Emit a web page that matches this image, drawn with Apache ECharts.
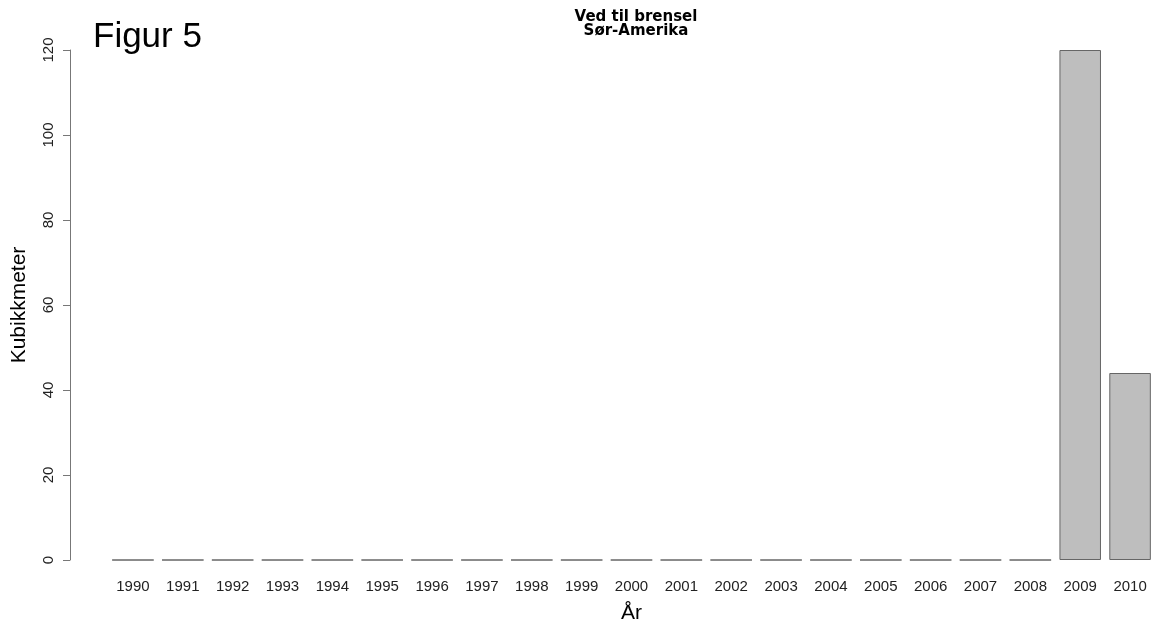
<!DOCTYPE html>
<html>
<head>
<meta charset="utf-8">
<script src="https://cdn.jsdelivr.net/npm/echarts@6/dist/echarts.min.js"></script>
<style>
  html, body { margin: 0; padding: 0; background: #fff; }
  #chart { width: 1155px; height: 630px; }
</style>
</head>
<body>
<div id="chart"></div>
<script>
// data
const years = ['1990', '1991', '1992', '1993', '1994', '1995', '1996', '1997', '1998', '1999', '2000',
  '2001', '2002', '2003', '2004', '2005', '2006', '2007', '2008', '2009', '2010'];
const volumes = [0, 0, 0, 0, 0, 0, 0, 0, 0, 0, 0, 0, 0, 0, 0, 0, 0, 0, 0, 120, 44];
const yTicks = [0, 20, 40, 60, 80, 100, 120];

const font = 'Liberation Sans, Arial, sans-serif';
const chart = echarts.init(document.getElementById('chart'));

const option = {
  animation: false,
  title: [
    {
      text: 'Figur 5',
      left: 88,
      top: 15,
      textStyle: { fontFamily: font, fontSize: 35, fontWeight: 'normal', color: '#000' }
    },
    {
      text: 'Ved til brensel\nSør-Amerika',
      left: 631,
      top: 5,
      textAlign: 'center',
      textStyle: { fontFamily: 'DejaVu Sans, sans-serif', fontSize: 15, fontWeight: 'bold', color: '#000', lineHeight: 14 }
    }
  ],
  grid: {
    left: 108,
    right: 0,
    top: 50,
    bottom: 70,
    containLabel: false,
    outerBoundsMode: 'none'
  },
  xAxis: {
    type: 'category',
    data: years,
    name: 'År',
    nameLocation: 'middle',
    nameGap: 43,
    nameTextStyle: { fontFamily: font, fontSize: 21, color: '#000' },
    axisLine: { show: false },
    axisTick: { show: false },
    axisLabel: { fontFamily: font, fontSize: 15, color: '#222', margin: 19, interval: 0 }
  },
  yAxis: {
    type: 'value',
    min: 0,
    max: 120,
    interval: 20,
    offset: 38,
    name: 'Kubikkmeter',
    nameLocation: 'middle',
    nameGap: 40,
    nameTextStyle: { fontFamily: font, fontSize: 21, color: '#000' },
    axisLine: { show: true, lineStyle: { color: '#777', width: 1 } },
    axisTick: { show: true, length: 7, lineStyle: { color: '#777' } },
    axisLabel: {
      fontFamily: font, fontSize: 15, color: '#222', rotate: 90, margin: 14,
      formatter: (v) => (yTicks.includes(v) ? String(v) : '')
    },
    splitLine: { show: false }
  },
  series: [
    {
      type: 'bar',
      data: volumes,
      barCategoryGap: '16.7%',
      itemStyle: { color: '#BEBEBE', borderColor: '#666', borderWidth: 1 }
    }
  ]
};

chart.setOption(option);
</script>
</body>
</html>
